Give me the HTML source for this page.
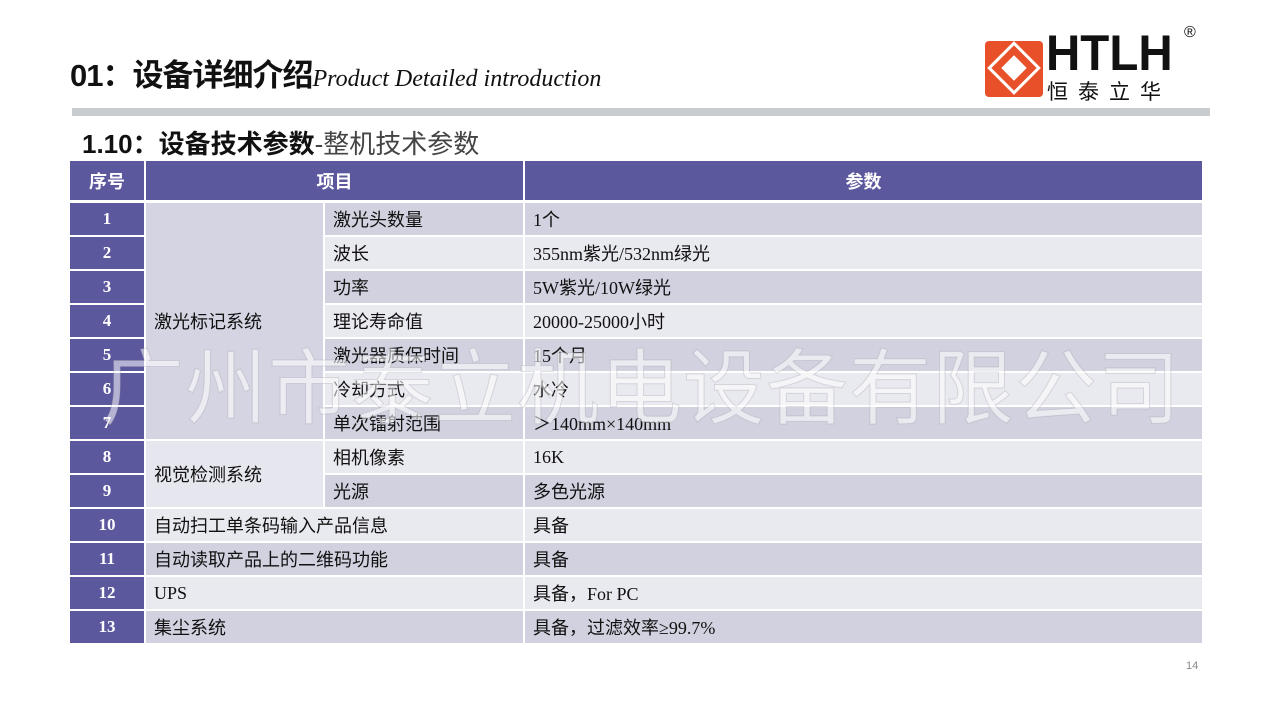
<!DOCTYPE html>
<html><head><meta charset="utf-8"><style>
body{margin:0;width:1280px;height:720px;background:#fff;position:relative;overflow:hidden;font-family:"Liberation Sans","Noto Sans CJK SC",sans-serif}
.a{position:absolute}
.c{position:absolute;box-sizing:border-box;display:flex;align-items:center;font-size:18px;color:#111;padding-left:8px;white-space:nowrap}
.s{background:#5c589e;color:#fff;font-family:"Liberation Serif","Noto Serif CJK SC",serif;font-weight:bold;font-size:17px;justify-content:center;padding:0}
.o{background:#d1d1df}.e{background:#e9e9f0}
.ser{font-family:"Liberation Serif","Noto Sans CJK SC",serif}
</style></head><body>
<div class="a" style="left:70px;top:50px;font-size:31px;font-weight:bold;color:#111;letter-spacing:-1px;white-space:nowrap">01：设备详细介绍<span style="font-family:'Liberation Serif',serif;font-style:italic;font-weight:normal;font-size:24px;letter-spacing:0">Product Detailed introduction</span></div>
<div class="a" style="left:72px;top:108px;width:1138px;height:8px;background:#c8ccd0"></div>
<div class="a" style="left:82px;top:124px;font-size:26px;color:#111;white-space:nowrap"><b>1.10：设备技术参数</b><span style="color:#444">-整机技术参数</span></div>
<!-- logo -->
<div class="a" style="left:985px;top:41px;width:58px;height:56px;background:#e8502a;border-radius:4px;overflow:hidden">
<div class="a" style="left:10px;top:8px;width:38px;height:38px;border:3px solid #fff;transform:rotate(45deg);box-sizing:border-box"></div>
<div class="a" style="left:20px;top:18px;width:18px;height:18px;background:#fff;transform:rotate(45deg)"></div></div>
<div class="a" style="left:1046px;top:28px;font-size:50px;font-weight:bold;color:#111;letter-spacing:0px;line-height:50px;transform:scaleX(0.95);transform-origin:left">HTLH</div>
<div class="a" style="left:1184px;top:24px;font-size:16px;color:#111">®</div>
<div class="a" style="left:1047px;top:76px;font-size:21px;color:#111;letter-spacing:10px">恒泰立华</div>
<!-- header -->
<div class="c s" style="left:70px;top:161px;width:74px;height:39px;font-family:'Liberation Sans','Noto Sans CJK SC',sans-serif;font-size:18px">序号</div>
<div class="c s" style="left:146px;top:161px;width:377px;height:39px;font-family:'Liberation Sans','Noto Sans CJK SC',sans-serif;font-size:18px">项目</div>
<div class="c s" style="left:525px;top:161px;width:677px;height:39px;font-family:'Liberation Sans','Noto Sans CJK SC',sans-serif;font-size:18px">参数</div>
<div id="t"></div>
<script>
var r=[["激光头数量","1个"],["波长","355nm紫光/532nm绿光"],["功率","5W紫光/10W绿光"],["理论寿命值","20000-25000小时"],["激光器质保时间","15个月"],["冷却方式","水冷"],["单次镭射范围"," ＞140mm×140mm"],["相机像素","16K"],["光源","多色光源"],["自动扫工单条码输入产品信息","具备"],["自动读取产品上的二维码功能","具备"],["UPS","具备，For PC"],["集尘系统","具备，过滤效率≥99.7%"]];
var h="";
for(var i=0;i<13;i++){var y=203+i*34,k=i%2?"e":"o";
h+='<div class="c s" style="left:70px;top:'+y+'px;width:74px;height:32px">'+(i+1)+'</div>';
if(i<9){h+='<div class="c '+k+'" style="left:325px;top:'+y+'px;width:198px;height:32px">'+r[i][0]+'</div>';}
else h+='<div class="c '+k+(i==11?' ser':'')+'" style="left:146px;top:'+y+'px;width:377px;height:32px">'+r[i][0]+'</div>';
h+='<div class="c '+k+' ser" style="left:525px;top:'+y+'px;width:677px;height:32px">'+r[i][1]+'</div>';}
h+='<div class="c" style="left:146px;top:203px;width:177px;height:236px;background:#d4d4e2">激光标记系统</div>';
h+='<div class="c" style="left:146px;top:441px;width:177px;height:66px;background:#e6e6ee">视觉检测系统</div>';
document.getElementById("t").innerHTML=h;
</script>
<div class="a" style="left:102px;top:322px;font-size:82px;letter-spacing:1px;color:rgba(255,255,255,0.55);-webkit-text-stroke:1px rgba(150,150,160,0.3);white-space:nowrap">广州市泰立机电设备有限公司</div>
<div class="a" style="left:1186px;top:660px;font-size:11px;color:#888">14</div>
</body></html>
